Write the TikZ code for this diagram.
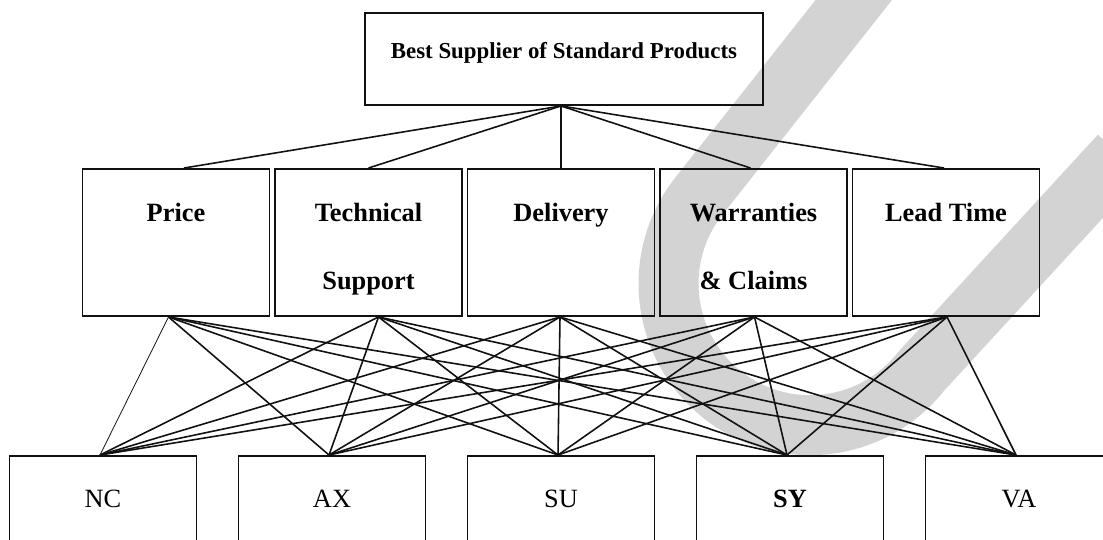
\documentclass[tikz,border=0pt]{standalone}
\usepackage{fontspec}
\setmainfont{Liberation Serif}
\usetikzlibrary{positioning}
\definecolor{wmgray}{HTML}{D3D3D3}
\definecolor{inkblack}{HTML}{111111}

\tikzset{
  goalbox/.style={draw=inkblack, line width=1.1pt, minimum width=7.96cm, minimum height=1.84cm, inner sep=0pt},
  critbox/.style={draw=inkblack, line width=1.1pt, minimum width=3.74cm, minimum height=2.94cm, inner sep=0pt},
  altbox/.style={draw=inkblack, line width=1.1pt, minimum width=3.74cm, minimum height=3cm, inner sep=0pt},
  link/.style={draw=inkblack, line width=0.9pt},
  thinlink/.style={draw=inkblack, line width=0.45pt},
  goaltext/.style={anchor=base, font=\fontsize{13}{15}\selectfont\bfseries, inner sep=0pt},
  crittext/.style={anchor=base, font=\fontsize{15}{18}\selectfont\bfseries, inner sep=0pt},
  alttext/.style={anchor=base, font=\fontsize{15}{18}\selectfont, inner sep=0pt}
}

\begin{document}
\begin{tikzpicture}

\useasboundingbox (0,0) rectangle (22.06,10.8);
\clip (0,0) rectangle (22.06,10.8);

% Watermark band
\draw[wmgray, line width=1.2cm] (17.47,11.3) -- (13.98,6.88)
  arc[start angle=141.7, end angle=321.7, radius=2.83] -- (22.4,7.7);

% Goal
\node[goalbox] (goal) at (11.28,9.62) {};
\node[goaltext] (goal-t) at (11.28,9.62) {Best Supplier of Standard Products};

% Criteria
\node[critbox] (price) at (3.52,5.95) {};
\node[critbox] (tech) at (7.37,5.95) {};
\node[critbox] (deliv) at (11.22,5.95) {};
\node[critbox] (warr) at (15.07,5.95) {};
\node[critbox] (lead) at (18.92,5.95) {};

\node[crittext] (price-t) at (3.52,6.36) {Price};
\node[crittext] (tech-t) at (7.37,6.36) {Technical};
\node[crittext] (tech-t2) at (7.37,5.0) {Support};
\node[crittext] (deliv-t) at (11.22,6.36) {Delivery};
\node[crittext] (warr-t) at (15.07,6.36) {Warranties};
\node[crittext] (warr-t2) at (15.07,5.0) {\& Claims};
\node[crittext] (lead-t) at (18.92,6.36) {Lead Time};

% Alternatives
\node[altbox] (nc) at (2.06,0.18) {};
\node[altbox] (ax) at (6.64,0.18) {};
\node[altbox] (su) at (11.22,0.18) {};
\node[altbox] (sy) at (15.80,0.18) {};
\node[altbox] (va) at (20.38,0.18) {};

\node[alttext] (nc-t) at (2.06,0.64) {NC};
\node[alttext] (ax-t) at (6.64,0.64) {AX};
\node[alttext] (su-t) at (11.22,0.64) {SU};
\node[alttext, font=\fontsize{15}{18}\selectfont\bfseries] (sy-t) at (15.80,0.64) {SY};
\node[alttext] (va-t) at (20.38,0.64) {VA};

% Goal -> criteria
\foreach \m/\dx in {price/0.16, tech/0, deliv/0, warr/-0.06, lead/-0.04}
  \draw[link] ([xshift=-0.06cm]goal.south) -- ([xshift=\dx cm]\m.north);

% Criteria -> alternatives
\draw[thinlink] ([xshift=-0.15cm]price.south) -- ([xshift=-0.06cm]nc.north);
\foreach \m/\dx/\alts in {price/-0.15/{ax,su,sy,va}, tech/0.2/{nc,ax,su,sy,va},
    deliv/-0.02/{nc,ax,su,sy,va}, warr/0.02/{nc,ax,su,sy,va}, lead/0.02/{nc,ax,su,sy,va}}
  \foreach \s in \alts
    \draw[link] ([xshift=\dx cm]\m.south) -- ([xshift=-0.06cm]\s.north);

\end{tikzpicture}
\end{document}
